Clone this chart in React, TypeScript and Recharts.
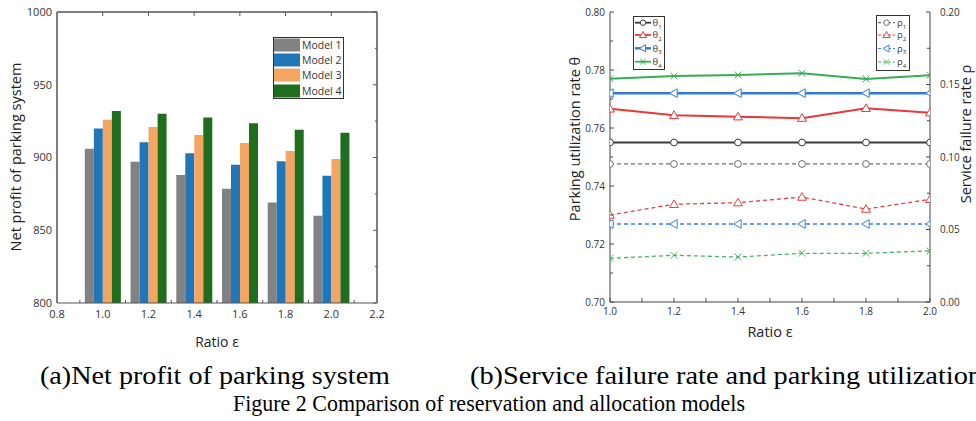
import React from 'react';
import { ComposedChart, Bar, Line, XAxis, YAxis, ReferenceLine } from 'recharts';

// ---------- Data: (a) net profit ----------
const ratios = [1.0, 1.2, 1.4, 1.6, 1.8, 2.0];
const model1 = [906, 897, 888, 878.5, 869, 860];
const model2 = [920, 910.5, 903, 895, 897.5, 887.5];
const model3 = [926, 921, 915.5, 910, 904.5, 899];
const model4 = [932, 930, 927.5, 923.5, 919, 917];
const modelNames = ['Model 1', 'Model 2', 'Model 3', 'Model 4'];
const modelColors = ['#828282', '#1f77b9', '#f5a562', '#1e6e1e'];

// ---------- Data: (b) utilization / failure ----------
const theta1 = [0.755, 0.755, 0.755, 0.755, 0.755, 0.755];
const theta2 = [0.7666, 0.7644, 0.7639, 0.7634, 0.7668, 0.7653];
const theta3 = [0.772, 0.772, 0.772, 0.772, 0.772, 0.772];
const theta4 = [0.777, 0.7779, 0.7783, 0.7789, 0.7769, 0.7782];
const rho1 = [0.0952, 0.0952, 0.0952, 0.0952, 0.0952, 0.0952];
const rho2 = [0.06, 0.0674, 0.0685, 0.0724, 0.0641, 0.0708];
const rho3 = [0.0538, 0.0538, 0.0538, 0.0538, 0.0538, 0.0538];
const rho4 = [0.0301, 0.0322, 0.031, 0.0336, 0.0336, 0.0352];
const thetaColors = ['#3a3a3a', '#e8383b', '#3579d6', '#36ad57'];
const rhoColors = ['#6e6e6e', '#e04346', '#3b82e2', '#46b466'];
const markerShapes = ['circle', 'up', 'left', 'x'];

// ---------- Ticks ----------
const leftXMajor = [0.8, 1.0, 1.2, 1.4, 1.6, 1.8, 2.0, 2.2];
const leftXMinor = [0.9, 1.1, 1.3, 1.5, 1.7, 1.9, 2.1];
const leftXTop = [1.0, 1.2, 1.4, 1.6, 1.8, 2.0];
const leftYMajor = [800, 850, 900, 950, 1000];
const leftYMinor = [825, 875, 925, 975];
const rightXMajor = [1.0, 1.2, 1.4, 1.6, 1.8, 2.0];
const rightXMinor = [1.1, 1.3, 1.5, 1.7, 1.9];
const thetaMajor = [0.7, 0.72, 0.74, 0.76, 0.78, 0.8];
const thetaMinor = [0.71, 0.73, 0.75, 0.77, 0.79];
const rhoMajor = [0, 0.05, 0.1, 0.15, 0.2];
const rhoMinor = [0.025, 0.075, 0.125, 0.175];

const barData = ratios.map((x, i) => ({ x, m1: model1[i], m2: model2[i], m3: model3[i], m4: model4[i] }));
const lineData = ratios.map((x, i) => ({
  x,
  t1: theta1[i], t2: theta2[i], t3: theta3[i], t4: theta4[i],
  r1: rho1[i], r2: rho2[i], r3: rho3[i], r4: rho4[i],
}));

const TICK_FONT = '"Open Sans", sans-serif';
const AXIS_COLOR = '#555';

const sortTicks = (a: number[], b: number[]) => [...a, ...b].sort((p, q) => p - q);

function AxisTick(props: any) {
  const { x, y, payload, side, majors, fmt, len, minorLen, offset, fontSize, label, color } = props;
  const v = payload.value;
  const major = majors.some((m: number) => Math.abs(m - v) < 1e-9);
  const L = major ? len : minorLen;
  let line: number[] = [x, y, x, y];
  let text: any = null;
  const tp = { fontFamily: TICK_FONT, fontSize, fill: '#333' };
  if (side === 'bottom') {
    line = [x, y, x, y - L];
    if (major && label) text = <text x={x} y={y + offset} textAnchor="middle" {...tp}>{fmt(v)}</text>;
  } else if (side === 'top') {
    line = [x, y, x, y + L];
  } else if (side === 'left') {
    line = [x, y, x + L, y];
    if (major && label) text = <text x={x - offset} y={y} dy="0.35em" textAnchor="end" {...tp}>{fmt(v)}</text>;
  } else {
    line = [x, y, x - L, y];
    if (major && label) text = <text x={x + offset} y={y} dy="0.35em" textAnchor="start" {...tp}>{fmt(v)}</text>;
  }
  return (
    <g>
      {L > 0 && <line x1={line[0]} y1={line[1]} x2={line[2]} y2={line[3]} stroke={color || AXIS_COLOR} strokeWidth={1} />}
      {text}
    </g>
  );
}

function Marker({ shape, cx, cy, color, s }: any) {
  switch (shape) {
    case 'circle':
      return <circle cx={cx} cy={cy} r={s * 0.85} fill="#fff" stroke={color} strokeWidth={1} />;
    case 'up':
      return (
        <polygon
          points={`${cx},${cy - s * 1.1} ${cx - s * 1.1},${cy + s * 0.8} ${cx + s * 1.1},${cy + s * 0.8}`}
          fill="#fff" stroke={color} strokeWidth={1}
        />
      );
    case 'left':
      return (
        <polygon
          points={`${cx - s * 1.1},${cy} ${cx + s * 0.8},${cy - s * 1.1} ${cx + s * 0.8},${cy + s * 1.1}`}
          fill="#fff" stroke={color} strokeWidth={1}
        />
      );
    default:
      return (
        <g stroke={color} strokeWidth={1}>
          <line x1={cx - s * 0.85} y1={cy - s * 0.85} x2={cx + s * 0.85} y2={cy + s * 0.85} />
          <line x1={cx - s * 0.85} y1={cy + s * 0.85} x2={cx + s * 0.85} y2={cy - s * 0.85} />
        </g>
      );
  }
}

const makeDot = (shape: string, color: string) => (p: any) => {
  const { cx, cy, index } = p;
  if (cx == null || cy == null) return <g key={`e${index}`} />;
  return <Marker key={`d${index}`} shape={shape} cx={cx} cy={cy} color={color} s={4} />;
};

function LeftChart() {
  const axisLine = { stroke: AXIS_COLOR, strokeWidth: 1 };
  return (
    <ComposedChart width={400} height={360} data={barData} margin={{ top: 11, right: 22, bottom: 0, left: 0 }} barGap={0}>
      <XAxis
        xAxisId="bottom" dataKey="x" type="number" domain={[0.8, 2.2]} ticks={sortTicks(leftXMajor, leftXMinor)}
        interval={0} height={57} tickSize={0} tickMargin={0} allowDataOverflow axisLine={axisLine}
        tick={(p: any) => <AxisTick {...p} side="bottom" majors={leftXMajor} fmt={(v: number) => v.toFixed(1)} len={0} minorLen={3} offset={15} fontSize={11} label />}
      />
      <XAxis
        xAxisId="top" orientation="top" dataKey="x" type="number" domain={[0.8, 2.2]} ticks={leftXTop}
        interval={0} height={1} tickSize={0} tickMargin={0} allowDataOverflow axisLine={axisLine}
        tick={(p: any) => <AxisTick {...p} side="top" majors={leftXTop} fmt={String} len={4} minorLen={0} offset={0} fontSize={11} />}
      />
      <YAxis
        yAxisId="y" domain={[800, 1000]} ticks={leftYMajor} interval={0} width={57} tickSize={0} tickMargin={0}
        allowDataOverflow axisLine={axisLine}
        tick={(p: any) => <AxisTick {...p} side="left" majors={leftYMajor} fmt={(v: number) => String(Math.round(v))} len={0} minorLen={0} offset={5} fontSize={11} label />}
      />
      <YAxis
        yAxisId="yr" orientation="right" domain={[800, 1000]} ticks={sortTicks(leftYMajor, leftYMinor)} interval={0}
        width={1} tickSize={0} tickMargin={0} allowDataOverflow axisLine={axisLine}
        tick={(p: any) => <AxisTick {...p} side="right" majors={leftYMajor} fmt={String} len={4} minorLen={2} offset={0} fontSize={11} />}
      />
      {['m1', 'm2', 'm3', 'm4'].map((k, i) => (
        <Bar key={k} dataKey={k} xAxisId="top" yAxisId="y" fill={modelColors[i]} barSize={9} isAnimationActive={false} />
      ))}
      <ReferenceLine xAxisId="top" yAxisId="y" x={leftXMajor[0]} stroke={AXIS_COLOR} strokeWidth={1} ifOverflow="visible" />
      <ReferenceLine xAxisId="top" yAxisId="y" x={leftXMajor[leftXMajor.length - 1]} stroke={AXIS_COLOR} strokeWidth={1} ifOverflow="visible" />
      <ReferenceLine xAxisId="top" yAxisId="y" y={leftYMajor[leftYMajor.length - 1]} stroke={AXIS_COLOR} strokeWidth={1} ifOverflow="visible" />
    </ComposedChart>
  );
}

function RightChart() {
  const tKeys = ['t1', 't2', 't3', 't4'];
  const rKeys = ['r1', 'r2', 'r3', 'r4'];
  const tWidths = [2, 2, 2.6, 2];
  const axisLine = { stroke: '#444', strokeWidth: 1 };
  return (
    <ComposedChart width={416} height={360} data={lineData} margin={{ top: 12, right: 0, bottom: 0, left: 0 }}>
      <XAxis
        xAxisId="b" dataKey="x" type="number" domain={[1, 2]} ticks={sortTicks(rightXMajor, rightXMinor)} interval={0}
        height={58} tickSize={0} tickMargin={0} allowDataOverflow axisLine={axisLine}
        tick={(p: any) => <AxisTick {...p} side="bottom" majors={rightXMajor} fmt={(v: number) => v.toFixed(1)} len={4} minorLen={4} offset={13} fontSize={10} label color="#444" />}
      />
      <XAxis
        xAxisId="t" orientation="top" dataKey="x" type="number" domain={[1, 2]} ticks={rightXMajor} interval={0}
        height={0} tickSize={0} tickMargin={0} allowDataOverflow axisLine={axisLine}
        tick={(p: any) => <AxisTick {...p} side="top" majors={rightXMajor} fmt={String} len={4} minorLen={0} offset={0} fontSize={10} color="#444" />}
      />
      <YAxis
        yAxisId="l" domain={[0.7, 0.8]} ticks={sortTicks(thetaMajor, thetaMinor)} interval={0} width={50}
        tickSize={0} tickMargin={0} allowDataOverflow axisLine={axisLine}
        tick={(p: any) => <AxisTick {...p} side="left" majors={thetaMajor} fmt={(v: number) => v.toFixed(2)} len={4} minorLen={3} offset={5} fontSize={10} label color="#444" />}
      />
      <YAxis
        yAxisId="r" orientation="right" domain={[0, 0.2]} ticks={sortTicks(rhoMajor, rhoMinor)} interval={0} width={46}
        tickSize={0} tickMargin={0} allowDataOverflow axisLine={axisLine}
        tick={(p: any) => <AxisTick {...p} side="right" majors={rhoMajor} fmt={(v: number) => v.toFixed(2)} len={4} minorLen={3} offset={10} fontSize={10} label color="#444" />}
      />
      {rKeys.map((k, i) => (
        <Line
          key={k} dataKey={k} xAxisId="b" yAxisId="r" stroke={rhoColors[i]} strokeWidth={1.3} strokeDasharray="4 3"
          dot={makeDot(markerShapes[i], rhoColors[i])} activeDot={false} isAnimationActive={false}
        />
      ))}
      {tKeys.map((k, i) => (
        <Line
          key={k} dataKey={k} xAxisId="b" yAxisId="l" stroke={thetaColors[i]} strokeWidth={tWidths[i]}
          dot={makeDot(markerShapes[i], thetaColors[i])} activeDot={false} isAnimationActive={false}
        />
      ))}
    </ComposedChart>
  );
}

function Overlay() {
  const titleFont = '"Open Sans", sans-serif';
  const serif = '"Liberation Serif", "Times New Roman", serif';
  const legRowsA = [45, 60, 75, 91];
  const legRowsT = [22.7, 35, 48.3, 61.7];
  const legRowsR = [22.7, 35, 48.5, 62];
  return (
    <svg width={976} height={421} style={{ position: 'absolute', left: 0, top: 0, pointerEvents: 'none' }}>
      {/* (a) legend */}
      <rect x={273.5} y={37.5} width={70} height={61} fill="#fff" stroke="#333" strokeWidth={1} />
      {modelNames.map((n, i) => (
        <g key={n}>
          <rect x={274} y={legRowsA[i] - 6.5} width={26} height={13} fill={modelColors[i]} />
          <text x={302} y={legRowsA[i]} dy="0.35em" fontFamily={titleFont} fontSize={10.5} fill="#333">{n}</text>
        </g>
      ))}
      {/* theta legend */}
      <rect x={633.5} y={16.5} width={31} height={53} fill="#fff" stroke="#333" strokeWidth={1} />
      {thetaColors.map((c, i) => (
        <g key={`t${i}`}>
          <line x1={635} y1={legRowsT[i]} x2={651} y2={legRowsT[i]} stroke={c} strokeWidth={i === 2 ? 2.4 : 1.8} />
          <Marker shape={markerShapes[i]} cx={643} cy={legRowsT[i]} color={c} s={3.2} />
          <text x={652.5} y={legRowsT[i]} dy="0.35em" fontFamily={titleFont} fontSize={9.5} fill="#333">
            θ<tspan fontSize={6} dy={2.5}>{i + 1}</tspan>
          </text>
        </g>
      ))}
      {/* rho legend */}
      <rect x={876.5} y={15.5} width={33} height={55} fill="#fff" stroke="#333" strokeWidth={1} />
      {rhoColors.map((c, i) => (
        <g key={`r${i}`}>
          <line x1={878} y1={legRowsR[i]} x2={895} y2={legRowsR[i]} stroke={c} strokeWidth={1.2} strokeDasharray="3 2" />
          <Marker shape={markerShapes[i]} cx={886.5} cy={legRowsR[i]} color={c} s={3.2} />
          <text x={897} y={legRowsR[i]} dy="0.35em" fontFamily={titleFont} fontSize={9.5} fill="#333">
            ρ<tspan fontSize={6} dy={2.5}>{i + 1}</tspan>
          </text>
        </g>
      ))}
      {/* axis titles */}
      <text x={16} y={157} transform="rotate(-90 16 157)" textAnchor="middle" dy="0.35em" fontFamily={titleFont} fontSize={14.5} fill="#222">
        Net profit of parking system
      </text>
      <text x={217} y={342} textAnchor="middle" dy="0.35em" fontFamily={titleFont} fontSize={14} fill="#222">Ratio ε</text>
      <text x={575} y={139} transform="rotate(-90 575 139)" textAnchor="middle" dy="0.35em" fontFamily={titleFont} fontSize={14.5} fill="#222">
        Parking utilization rate θ
      </text>
      <text x={966} y={134} transform="rotate(-90 966 134)" textAnchor="middle" dy="0.35em" fontFamily={titleFont} fontSize={14.5} fill="#222">
        Service failure rate ρ
      </text>
      <text x={770} y={332} textAnchor="middle" dy="0.35em" fontFamily={titleFont} fontSize={14.5} fill="#222">Ratio ε</text>
      {/* captions */}
      <text x={40} y={384} fontFamily={serif} fontSize={26} fill="#000" textLength={350} lengthAdjust="spacingAndGlyphs">
        (a)Net profit of parking system
      </text>
      <text x={470} y={384} fontFamily={serif} fontSize={26} fill="#000" textLength={512} lengthAdjust="spacingAndGlyphs">
        (b)Service failure rate and parking utilization
      </text>
      <text x={233} y={411} fontFamily={serif} fontSize={22.5} fill="#000" textLength={512} lengthAdjust="spacingAndGlyphs">
        Figure 2 Comparison of reservation and allocation models
      </text>
    </svg>
  );
}

export default function App() {
  return (
    <div style={{ position: 'absolute', left: 0, top: 0, width: 976, height: 421, overflow: 'hidden', background: '#fff' }}>
      <div style={{ position: 'absolute', left: 0, top: 0 }}>
        <LeftChart />
      </div>
      <div style={{ position: 'absolute', left: 560, top: 0 }}>
        <RightChart />
      </div>
      <Overlay />
    </div>
  );
}
